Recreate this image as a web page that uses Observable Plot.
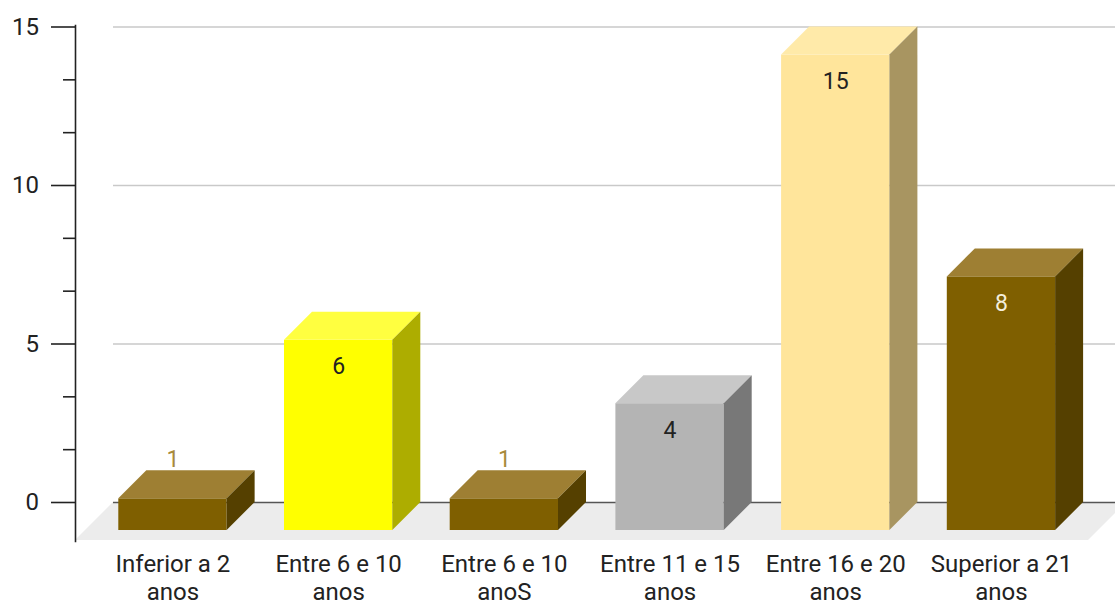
<!DOCTYPE html>
<html>
<head>
<meta charset="utf-8">
<script src="https://cdn.jsdelivr.net/npm/d3@7"></script>
<script src="https://cdn.jsdelivr.net/npm/@observablehq/plot@0.6"></script>
<style>
  html, body { margin: 0; padding: 0; background: #ffffff; }
  #chart svg { display: block; }
</style>
</head>
<body>
<div id="chart"></div>
<script>
// ---- data ----
const categories = [
  "Inferior a 2\nanos",
  "Entre 6 e 10\nanos",
  "Entre 6 e 10\nanoS",
  "Entre 11 e 15\nanos",
  "Entre 16 e 20\nanos",
  "Superior a 21\nanos"
];
const values = [1, 6, 1, 4, 15, 8];
const yTicks = [0, 5, 10, 15];
const yGridTicks = [5, 10, 15];
const yMinorTicks = [5/3, 10/3, 20/3, 25/3, 35/3, 40/3];

// ---- styles ----
const shades = {
  brown:  {front: "#7f5f00", top: "#9e7f33", side: "#554000", inside: "#f4eedb", above: "#a88a3c"},
  yellow: {front: "#ffff00", top: "#ffff40", side: "#adad00", inside: "#222222", above: "#222222"},
  gray:   {front: "#b4b4b4", top: "#c8c8c8", side: "#787878", inside: "#222222", above: "#222222"},
  cream:  {front: "#ffe59b", top: "#ffeaa9", side: "#a89561", inside: "#222222", above: "#222222"}
};
const barShade = ["brown", "yellow", "brown", "gray", "cream", "brown"];
const DEPTH = 28;        // 3D bar depth in px
const FLOOR_DEPTH = 38;  // floor depth in px

const data = categories.map((c, i) => ({category: c, value: values[i], shade: shades[barShade[i]]}));
const insideLabels = data.filter(d => d.value >= 2);
const aboveLabels = data.filter(d => d.value < 2);

function floorMark(index, scales, values, dims) {
  const y0 = scales.y(0);
  const L = dims.marginLeft, R = dims.width - dims.marginRight - 27;
  const g = d3.create("svg:g");
  g.append("path")
    .attr("fill", "#ececec")
    .attr("d", `M${L + FLOOR_DEPTH},${y0}L${R + FLOOR_DEPTH},${y0}L${R},${y0 + FLOOR_DEPTH}L${L},${y0 + FLOOR_DEPTH}Z`);
  return g.node();
}

function facesMark(index, scales) {
  const x = scales.x, y = scales.y;
  const bw = typeof x.bandwidth === "function" ? x.bandwidth() : scales.scales.x.bandwidth;
  const y0 = y(0);
  const g = d3.create("svg:g");
  for (const d of data) {
    const x1 = x(d.category), x2 = x1 + bw, yv = y(d.value);
    g.append("path").attr("fill", d.shade.top)
      .attr("d", `M${x1},${yv + DEPTH}L${x2},${yv + DEPTH}L${x2 + DEPTH},${yv}L${x1 + DEPTH},${yv}Z`);
    g.append("path").attr("fill", d.shade.side)
      .attr("d", `M${x2},${yv + DEPTH}L${x2 + DEPTH},${yv}L${x2 + DEPTH},${y0}L${x2},${y0 + DEPTH}Z`);
  }
  return g.node();
}

const chart = Plot.plot({
  width: 1115,
  height: 604,
  marginLeft: 75,
  marginTop: 25,
  marginBottom: 63,
  marginRight: 0,
  style: {fontFamily: "Roboto, 'Liberation Sans', sans-serif", fontSize: "24px", background: "#ffffff", overflow: "visible"},
  x: {type: "band", domain: categories, range: [60.3, 1113.1], paddingInner: 0.3464, paddingOuter: 0.35, align: 0.5, round: false},
  y: {domain: [0, 15], range: [502, 26.5]},
  color: {type: "identity"},
  marks: [
    floorMark,
    Plot.ruleY(yGridTicks, {stroke: "#c9c9c9", strokeWidth: 1.3, insetLeft: 38}),
    Plot.ruleY([0], {stroke: "#555555", strokeWidth: 1.3, insetLeft: 38}),
    Plot.barY(data, {x: "category", y: "value", fill: d => d.shade.front, dy: DEPTH}),
    facesMark,
    Plot.text(insideLabels, {x: "category", y: "value", text: d => String(d.value), fill: d => d.shade.inside,
      dy: DEPTH + 34, lineAnchor: "bottom", fontSize: 23}),
    Plot.text(aboveLabels, {x: "category", y: "value", text: d => String(d.value), fill: d => d.shade.above,
      dy: -4, lineAnchor: "bottom", fontSize: 23}),
    Plot.axisY({ticks: yTicks, tickSize: 24, tickPadding: 12.5, color: "#222", strokeWidth: 1.6, fontSize: 24, label: null}),
    Plot.axisY({ticks: yMinorTicks, tickSize: 12, tickFormat: () => "", color: "#222", strokeWidth: 1.6, label: null}),
    Plot.axisX({tickSize: 0, tickPadding: 10, lineHeight: 1.18, color: "#222", fontSize: 24, label: null}),
    Plot.frame({anchor: "left", stroke: "#222", strokeWidth: 1.6})
  ]
});

document.getElementById("chart").appendChild(chart);
</script>
</body>
</html>
